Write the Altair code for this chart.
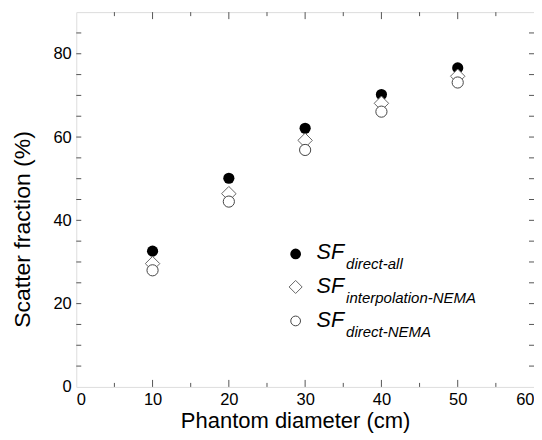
import altair as alt
import pandas as pd

# ---- data ----
diameters = [10, 20, 30, 40, 50]
sf_direct_all = [32.6, 50.1, 62.1, 70.2, 76.6]
sf_interp_nema = [29.6, 46.4, 59.2, 68.1, 74.6]
sf_direct_nema = [28.0, 44.5, 56.9, 66.1, 73.1]

x_labels = [0, 10, 20, 30, 40, 50, 60]
y_labels = [0, 20, 40, 60, 80]
x_major_ticks = [10, 20, 30, 40, 50]
x_minor_ticks = [5, 15, 25, 35, 45, 55]
y_ticks = [5, 10, 15, 20, 25, 30, 35, 40, 45, 50, 55, 60, 65, 70, 75, 80, 85]

legend_subs = ["direct-all", "interpolation-NEMA", "direct-NEMA"]

W, H = 458, 375
FONT = "Liberation Sans"
AXC = "#555555"

xs = alt.Scale(domain=[0, 60], nice=False, zero=False)
ys = alt.Scale(domain=[0, 90], nice=False, zero=False)

def pts(vals):
    return pd.DataFrame({"d": diameters, "sf": vals})

base_x = alt.X("d:Q", scale=xs,
               axis=alt.Axis(values=x_labels, title="Phantom diameter (cm)", ticks=False, tickSize=0,
                             domain=False, grid=False, labelFontSize=16.5, labelPadding=5,
                             labelFont=FONT, labelColor="black", titleFont=FONT, titleFontSize=22,
                             titleFontWeight="normal", titleColor="black",
                             titleX=219, titleY=40.5, titleBaseline="alphabetic"))
base_y = alt.Y("sf:Q", scale=ys,
               axis=alt.Axis(values=y_labels, title="Scatter fraction (%)", ticks=False, tickSize=0,
                             domain=False, grid=False, labelFontSize=16.5, labelPadding=5,
                             labelFont=FONT, labelColor="black", titleFont=FONT, titleFontSize=23,
                             titleFontWeight="normal", titleColor="black",
                             titleX=-42, titleY=217, titleBaseline="bottom"))

filled = alt.Chart(pts(sf_direct_all)).mark_point(
    shape="circle", filled=True, color="black", size=125, opacity=1
).encode(x=base_x, y=base_y)

diamond = alt.Chart(pts(sf_interp_nema)).mark_point(
    shape="diamond", filled=True, fill="white", stroke="#666666", strokeWidth=1, size=210, opacity=1
).encode(x=alt.X("d:Q", scale=xs), y=alt.Y("sf:Q", scale=ys))

opencirc = alt.Chart(pts(sf_direct_nema)).mark_point(
    shape="circle", filled=True, fill="white", stroke="#444444", strokeWidth=1, size=125, opacity=1
).encode(x=alt.X("d:Q", scale=xs), y=alt.Y("sf:Q", scale=ys))

# ---- inward ticks ----
def xtick_layer(vals, length, top):
    df = pd.DataFrame({"t": vals})
    if top:
        yy, yy2 = 0, length
    else:
        yy, yy2 = H, H - length
    return alt.Chart(df).mark_rule(color=AXC, strokeWidth=1).encode(
        x=alt.X("t:Q", scale=xs), y=alt.value(yy), y2=alt.value(yy2))

def ytick_layer(vals, length, right):
    df = pd.DataFrame({"t": vals})
    if right:
        xx, xx2 = W, W - length
    else:
        xx, xx2 = 0, length
    return alt.Chart(df).mark_rule(color=AXC, strokeWidth=1).encode(
        y=alt.Y("t:Q", scale=ys), x=alt.value(xx), x2=alt.value(xx2))

ticks = [
    xtick_layer(x_major_ticks, 7, False), xtick_layer(x_minor_ticks, 4, False),
    xtick_layer(x_major_ticks, 7, True), xtick_layer(x_minor_ticks, 4, True),
    ytick_layer(y_ticks, 5, False), ytick_layer(y_ticks, 5, True),
]

# ---- legend (custom, with subscripts) ----
leg = pd.DataFrame({
    "row": [0, 1, 2],
    "sub": legend_subs,
    "sy": [242, 275, 309],
    "ty": [247.5, 281, 315],
    "uy": [257.5, 291, 325],
})
leg_filled = alt.Chart(leg[leg.row == 0]).mark_point(
    shape="circle", filled=True, color="black", size=115, opacity=1
).encode(x=alt.value(219.5), y=alt.Y("sy:Q", scale=None))
leg_diamond = alt.Chart(leg[leg.row == 1]).mark_point(
    shape="diamond", filled=True, fill="white", stroke="#666666", strokeWidth=1, size=170, opacity=1
).encode(x=alt.value(219.5), y=alt.Y("sy:Q", scale=None))
leg_open = alt.Chart(leg[leg.row == 2]).mark_point(
    shape="circle", filled=True, fill="white", stroke="#444444", strokeWidth=1, size=95, opacity=1
).encode(x=alt.value(219.5), y=alt.Y("sy:Q", scale=None))
leg_sf = alt.Chart(leg).mark_text(
    text="SF", font=FONT, fontSize=21.5, fontStyle="italic", align="left", baseline="alphabetic", color="black"
).encode(x=alt.value(240.5), y=alt.Y("ty:Q", scale=None))
leg_sub = alt.Chart(leg).mark_text(
    font=FONT, fontSize=15, fontStyle="italic", align="left", baseline="alphabetic", color="black"
).encode(x=alt.value(270), y=alt.Y("uy:Q", scale=None), text="sub:N")

chart = alt.layer(
    filled, diamond, opencirc, *ticks, leg_filled, leg_diamond, leg_open, leg_sf, leg_sub
).properties(
    width=W, height=H,
    autosize=alt.AutoSizeParams(type="none"),
    padding={"left": 68.3, "top": 4, "right": 0, "bottom": 50},
).configure_view(
    stroke=AXC, strokeWidth=1.5
).configure(background="white")

chart.save("out.html", embed_options={"renderer": "svg", "actions": False})
